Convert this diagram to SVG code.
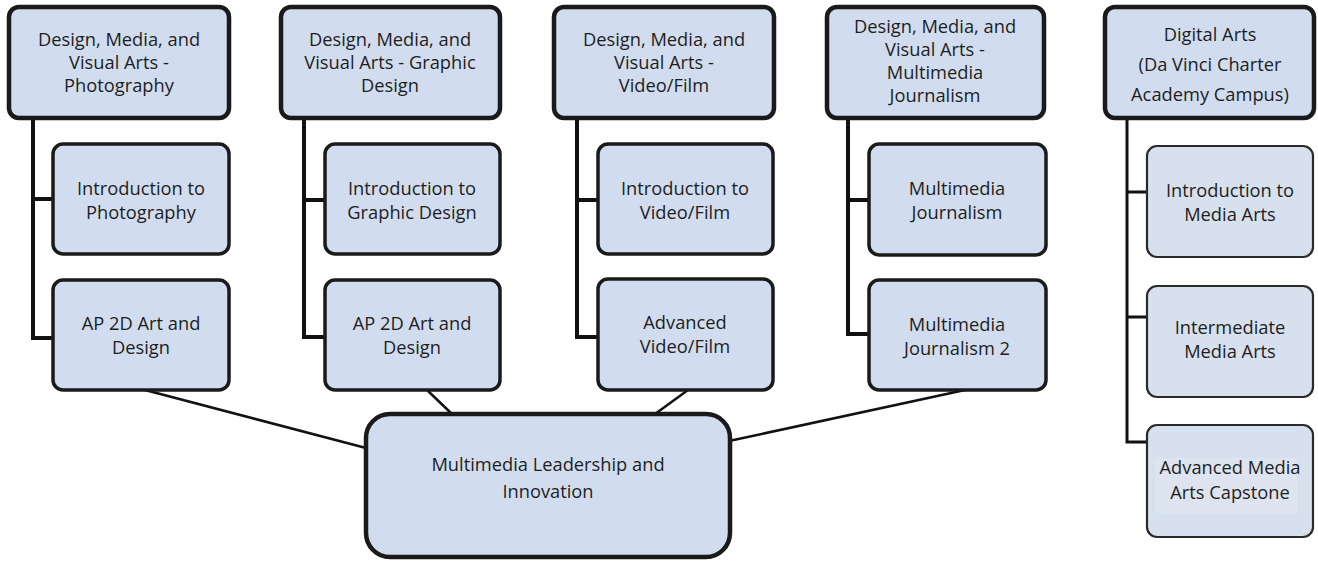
<svg xmlns="http://www.w3.org/2000/svg" width="1318" height="562" viewBox="0 0 1318 562">
<style>
.hdr{fill:#d1ddee;stroke:#1a1a1a;stroke-width:4.5}
.ch{fill:#d1ddee;stroke:#1a1a1a;stroke-width:3.5}
.ch5{fill:#d7e0ed;stroke:#2a2a2a;stroke-width:2.2}
.hub{fill:#d1ddee;stroke:#1a1a1a;stroke-width:4.5}
.ln{fill:none;stroke:#111;stroke-width:4}
.ln2{fill:none;stroke:#111;stroke-width:2.5}
.ln5{fill:none;stroke:#111;stroke-width:3}
text{font-family:"Open Sans","Liberation Sans",sans-serif;font-size:18.3px;fill:#1e1e1e;text-anchor:middle}
</style>
<g id="connectors">
<path class="ln" d="M33,118 V338 H53 M33,199 H53"/>
<path class="ln" d="M304,118 V337 H325 M304,200 H325"/>
<path class="ln" d="M577,118 V337 H598 M577,200 H598"/>
<path class="ln" d="M848,118 V334 H869 M848,200 H869"/>
<path class="ln5" d="M1127,118 V442 H1147 M1127,192 H1147 M1127,317 H1147"/>
<path class="ln2" d="M145,390 L366,448"/>
<path class="ln2" d="M427,390 L452,414"/>
<path class="ln2" d="M688,390 L655,414"/>
<path class="ln2" d="M965,390 L729,441"/>
</g>
<g id="n-photo">
<rect class="hdr" x="9" y="7" width="220" height="111" rx="10"/>
<text x="119" y="46">Design, Media, and</text>
<text x="119" y="69">Visual Arts -</text>
<text x="119" y="92">Photography</text>
</g>
<g id="n-photo1">
<rect class="ch" x="53" y="144" width="176" height="110" rx="10"/>
<text x="141" y="195">Introduction to</text>
<text x="141" y="219">Photography</text>
</g>
<g id="n-photo2">
<rect class="ch" x="53" y="280" width="176" height="110" rx="10"/>
<text x="141" y="330">AP 2D Art and</text>
<text x="141" y="354">Design</text>
</g>
<g id="n-graphic">
<rect class="hdr" x="281" y="7" width="219" height="111" rx="10"/>
<text x="390" y="46">Design, Media, and</text>
<text x="390" y="69">Visual Arts - Graphic</text>
<text x="390" y="92">Design</text>
</g>
<g id="n-graphic1">
<rect class="ch" x="325" y="144" width="175" height="110" rx="10"/>
<text x="412" y="195">Introduction to</text>
<text x="412" y="219">Graphic Design</text>
</g>
<g id="n-graphic2">
<rect class="ch" x="325" y="280" width="175" height="110" rx="10"/>
<text x="412" y="330">AP 2D Art and</text>
<text x="412" y="354">Design</text>
</g>
<g id="n-video">
<rect class="hdr" x="554" y="7" width="220" height="111" rx="10"/>
<text x="664" y="46">Design, Media, and</text>
<text x="664" y="69">Visual Arts -</text>
<text x="664" y="92">Video/Film</text>
</g>
<g id="n-video1">
<rect class="ch" x="598" y="144" width="175" height="110" rx="10"/>
<text x="685" y="195">Introduction to</text>
<text x="685" y="219">Video/Film</text>
</g>
<g id="n-video2">
<rect class="ch" x="598" y="279" width="175" height="111" rx="10"/>
<text x="685" y="329">Advanced</text>
<text x="685" y="353">Video/Film</text>
</g>
<g id="n-journ">
<rect class="hdr" x="827" y="7" width="217" height="111" rx="10"/>
<text x="935" y="33">Design, Media, and</text>
<text x="935" y="56">Visual Arts -</text>
<text x="935" y="79">Multimedia</text>
<text x="935" y="102">Journalism</text>
</g>
<g id="n-journ1">
<rect class="ch" x="869" y="144" width="177" height="111" rx="10"/>
<text x="957" y="195">Multimedia</text>
<text x="957" y="219">Journalism</text>
</g>
<g id="n-journ2">
<rect class="ch" x="869" y="280" width="177" height="110" rx="10"/>
<text x="957" y="331">Multimedia</text>
<text x="957" y="355">Journalism 2</text>
</g>
<g id="n-digital">
<rect class="hdr" x="1105" y="7" width="209" height="111" rx="10"/>
<text x="1210" y="41">Digital Arts</text>
<text x="1210" y="71">(Da Vinci Charter</text>
<text x="1210" y="101">Academy Campus)</text>
</g>
<g id="n-digital1">
<rect class="ch5" x="1147" y="146" width="166" height="111" rx="10"/>
<text x="1230" y="197">Introduction to</text>
<text x="1230" y="221">Media Arts</text>
</g>
<g id="n-digital2">
<rect class="ch5" x="1147" y="286" width="166" height="111" rx="10"/>
<text x="1230" y="334">Intermediate</text>
<text x="1230" y="358">Media Arts</text>
</g>
<g id="n-digital3">
<rect class="ch5" x="1147" y="425" width="166" height="112" rx="10"/>
<rect x="1155" y="458" width="142" height="55" fill="#dde4ef"/>
<text x="1230" y="474">Advanced Media</text>
<text x="1230" y="499">Arts Capstone</text>
</g>
<g id="n-hub">
<rect class="hub" x="366" y="414" width="364" height="143" rx="24"/>
<text x="548" y="471">Multimedia Leadership and</text>
<text x="548" y="498">Innovation</text>
</g>
</svg>
